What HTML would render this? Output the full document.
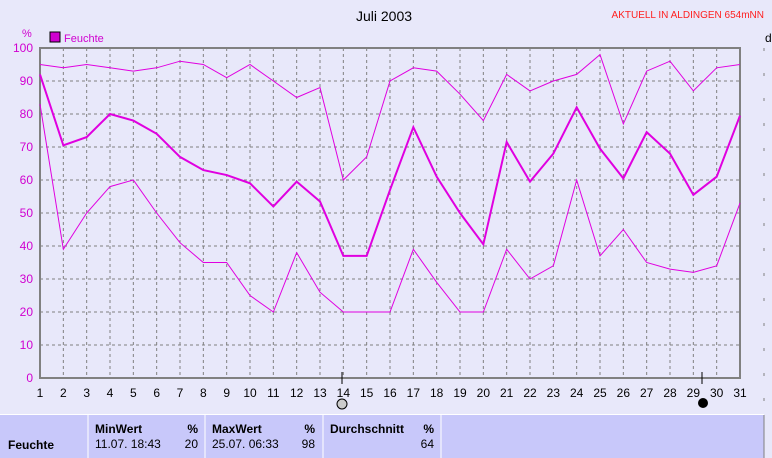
<!DOCTYPE html>
<html><head><meta charset="utf-8"><style>
body{margin:0;background:#e8e8fa;font-family:"Liberation Sans",sans-serif}
</style></head><body>
<svg width="772" height="458" xmlns="http://www.w3.org/2000/svg" style="display:block;font-family:'Liberation Sans',sans-serif">
<rect width="772" height="458" fill="#e8e8fa"/>
<text x="384" y="21" font-size="14" text-anchor="middle" fill="#000">Juli 2003</text>
<text x="764" y="18" font-size="10" text-anchor="end" fill="#ff2020">AKTUELL IN ALDINGEN 654mNN</text>
<text x="765" y="42" font-size="12" fill="#000">d</text>
<rect x="50" y="32" width="10" height="10" fill="#d000d0" stroke="#000"/>
<text x="64" y="42" font-size="11" fill="#d000d0">Feuchte</text>
<text x="22" y="37" font-size="11" fill="#d000d0">%</text>
<g id="grid" stroke="#808080" stroke-dasharray="3,3" stroke-width="1"></g>
<g id="lbl" font-size="12"></g>
<rect x="40" y="48" width="700" height="330" fill="none" stroke="#808080" stroke-width="2"/>
<line x1="764" y1="48" x2="764" y2="415" stroke="#808080" stroke-dasharray="3,22"/>
<line x1="342" y1="372" x2="342" y2="384" stroke="#000"/>
<line x1="702" y1="372" x2="702" y2="384" stroke="#000"/>
<circle cx="342" cy="404" r="5" fill="#ccc" stroke="#000"/>
<circle cx="703" cy="403" r="5" fill="#000"/>
<g id="series" fill="none" stroke="#e000e0"></g>
<rect x="0" y="415" width="764" height="43" fill="#c8c8fa"/>
<line x1="0" y1="414.5" x2="764" y2="414.5" stroke="#fff"/>
<g stroke="#fff"><line x1="88" y1="415" x2="88" y2="458"/><line x1="205" y1="415" x2="205" y2="458"/><line x1="323" y1="415" x2="323" y2="458"/><line x1="441" y1="415" x2="441" y2="458"/></g>
<line x1="764" y1="415" x2="764" y2="458" stroke="#808080"/>
<g font-size="12" fill="#000">
<text x="8" y="449" font-weight="bold">Feuchte</text>
<text x="95" y="433" font-weight="bold">MinWert</text><text x="198" y="433" text-anchor="end" font-weight="bold">%</text>
<text x="95" y="448">11.07.  18:43</text><text x="198" y="448" text-anchor="end">20</text>
<text x="212" y="433" font-weight="bold">MaxWert</text><text x="315" y="433" text-anchor="end" font-weight="bold">%</text>
<text x="212" y="448">25.07.  06:33</text><text x="315" y="448" text-anchor="end">98</text>
<text x="330" y="433" font-weight="bold">Durchschnitt</text><text x="434" y="433" text-anchor="end" font-weight="bold">%</text>
<text x="434" y="448" text-anchor="end">64</text>
</g>
</svg>
<script>
const ns="http://www.w3.org/2000/svg";
const g=document.getElementById('grid'),l=document.getElementById('lbl'),s=document.getElementById('series');
function el(p,t,a,txt){const e=document.createElementNS(ns,t);for(const k in a)e.setAttribute(k,a[k]);if(txt!=null)e.textContent=txt;p.appendChild(e);return e;}
const X=d=>40+(d-1)*700/30, Y=v=>378-v*3.3;
for(let v=10;v<100;v+=10)el(g,'line',{x1:40,x2:740,y1:Y(v),y2:Y(v)});
for(let d=2;d<31;d++)el(g,'line',{x1:X(d),x2:X(d),y1:48,y2:378});
for(let v=0;v<=100;v+=10)el(l,'text',{x:33,y:Y(v)+4,'text-anchor':'end',fill:'#d000d0'},v);
for(let d=1;d<=31;d++)el(l,'text',{x:X(d),y:397,'text-anchor':'middle',fill:'#000'},d);
const mx=[95,94,95,94,93,94,96,95,91,95,90,85,88,60,67,90,94,93,86,78,92,87,90,92,98,77,93,96,87,94,95];
const av=[92,70.5,73,80,78,74,67,63,61.5,59,52,59.5,53.5,37,37,57,76,61,50,40.5,71.5,59.5,68,82,69.5,60.5,74.5,68,55.5,61,79.5];
const mn=[83,39,50,58,60,50,41,35,35,25,20,38,26,20,20,20,39,29,20,20,39,30,34,60,37,45,35,33,32,34,53];
function pl(a,w){el(s,'polyline',{points:a.map((v,i)=>X(i+1)+','+Y(v)).join(' '),'stroke-width':w});}
pl(mx,1);pl(mn,1);pl(av,2);
</script>
</body></html>
